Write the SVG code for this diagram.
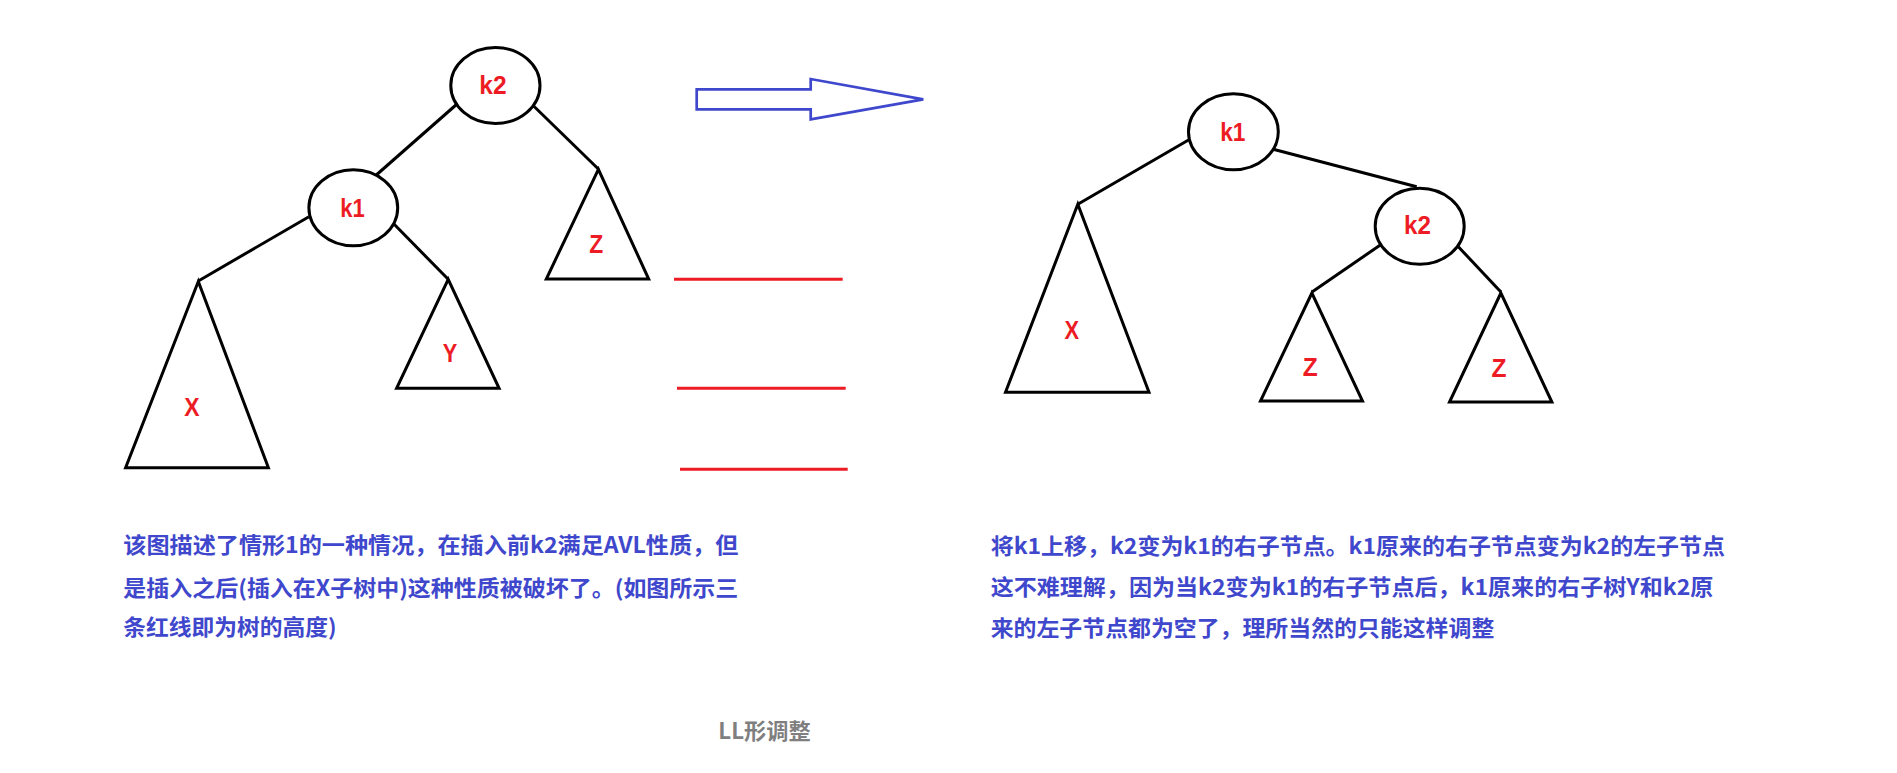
<svg xmlns="http://www.w3.org/2000/svg" width="1897" height="773" viewBox="0 0 1897 773">
<style>
.node{fill:#ffffff;stroke:#000000;stroke-width:3}
.tri{fill:none;stroke:#000000;stroke-width:3;stroke-linejoin:miter}
.edge{stroke:#000000;stroke-width:3;fill:none}
.lbl{font-family:"Liberation Sans","Noto Sans",sans-serif;font-weight:bold;font-size:25px;fill:#ed1c24;text-anchor:middle}
.red{stroke:#ed1c24;stroke-width:3}
.body{font-family:"Noto Sans CJK SC","Noto Sans",sans-serif;font-weight:bold;font-size:22px;fill:#3f48cc}
.cap{font-family:"Noto Sans CJK SC","Noto Sans",sans-serif;font-weight:bold;font-size:22px;fill:#7f7f7f;text-anchor:middle}
</style>
<rect width="1897" height="773" fill="#ffffff"/>
<g id="connectors">
<line class="edge" x1="455.9" y1="105" x2="376.3" y2="175"/>
<line class="edge" x1="533.6" y1="106" x2="598.6" y2="169.3"/>
<line class="edge" x1="308.9" y1="216.7" x2="198.3" y2="281"/>
<line class="edge" x1="393.9" y1="224" x2="448.2" y2="279.3"/>
<line class="edge" x1="1188.5" y1="140" x2="1077.8" y2="204.3"/>
<line class="edge" x1="1273.2" y1="149.3" x2="1416.7" y2="186.7"/>
<line class="edge" x1="1380.3" y1="245" x2="1312" y2="292"/>
<line class="edge" x1="1457.4" y1="245.7" x2="1500.9" y2="292"/>
</g>
<g id="left-k2"><ellipse class="node" cx="495.4" cy="85.5" rx="44.6" ry="38"/><text class="lbl" x="493" y="94" textLength="27.3" lengthAdjust="spacingAndGlyphs">k2</text></g>
<g id="left-k1"><ellipse class="node" cx="353.3" cy="207.7" rx="44.4" ry="38"/><text class="lbl" x="352.6" y="216.7" textLength="24.5" lengthAdjust="spacingAndGlyphs">k1</text></g>
<g id="left-Z"><polygon class="tri" points="598.4,169.3 546.3,279 648.7,279"/><text class="lbl" x="596.3" y="253.3" textLength="14" lengthAdjust="spacingAndGlyphs">Z</text></g>
<g id="left-X"><polygon class="tri" points="198.3,281.5 125.6,467.7 268.4,467.7"/><text class="lbl" x="191.8" y="415.7" textLength="15.3" lengthAdjust="spacingAndGlyphs">X</text></g>
<g id="left-Y"><polygon class="tri" points="448.2,279.3 396.6,388.3 499.1,388.3"/><text class="lbl" x="450.1" y="361.7" textLength="14.5" lengthAdjust="spacingAndGlyphs">Y</text></g>
<g id="arrow"><polygon points="696.7,89.3 810.7,89.3 810.7,79 923.3,99.3 810.7,119.3 810.7,109.3 696.7,109.3" fill="none" stroke="#3f48cc" stroke-width="2.7"/></g>
<g id="height-lines">
<line class="red" x1="674" y1="279.3" x2="842.7" y2="279.3"/>
<line class="red" x1="677" y1="388.3" x2="845.7" y2="388.3"/>
<line class="red" x1="680" y1="469.3" x2="847.7" y2="469.3"/>
</g>
<g id="right-k1"><ellipse class="node" cx="1233.4" cy="131.7" rx="44.9" ry="38"/><text class="lbl" x="1232.8" y="140.7" textLength="25.3" lengthAdjust="spacingAndGlyphs">k1</text></g>
<g id="right-k2"><ellipse class="node" cx="1419.7" cy="226.2" rx="44.5" ry="38"/><text class="lbl" x="1417.5" y="234" textLength="26.9" lengthAdjust="spacingAndGlyphs">k2</text></g>
<g id="right-X"><polygon class="tri" points="1077.8,204.3 1005.5,392.3 1149,392.3"/><text class="lbl" x="1071.9" y="339.3" textLength="14.6" lengthAdjust="spacingAndGlyphs">X</text></g>
<g id="right-Z1"><polygon class="tri" points="1311.9,293 1260.5,401 1362.5,401"/><text class="lbl" x="1310.3" y="375.7" textLength="15" lengthAdjust="spacingAndGlyphs">Z</text></g>
<g id="right-Z2"><polygon class="tri" points="1500.9,293 1449.5,402 1551.9,402"/><text class="lbl" x="1499" y="376.7" textLength="15" lengthAdjust="spacingAndGlyphs">Z</text></g>
<g id="left-text">
<text class="body" x="123.3" y="552.5" textLength="615" lengthAdjust="spacingAndGlyphs">该图描述了情形1的一种情况，在插入前k2满足AVL性质，但</text>
<text class="body" x="123.3" y="595.5" textLength="615" lengthAdjust="spacingAndGlyphs">是插入之后(插入在X子树中)这种性质被破坏了。(如图所示三</text>
<text class="body" x="123.3" y="635" textLength="213.4" lengthAdjust="spacingAndGlyphs">条红线即为树的高度)</text>
</g>
<g id="right-text">
<text class="body" x="990.7" y="553.5" textLength="734.3" lengthAdjust="spacingAndGlyphs">将k1上移，k2变为k1的右子节点。k1原来的右子节点变为k2的左子节点</text>
<text class="body" x="990.7" y="595" textLength="722.6" lengthAdjust="spacingAndGlyphs">这不难理解，因为当k2变为k1的右子节点后，k1原来的右子树Y和k2原</text>
<text class="body" x="990.7" y="635.5" textLength="503.6" lengthAdjust="spacingAndGlyphs">来的左子节点都为空了，理所当然的只能这样调整</text>
</g>
<g id="caption"><text class="cap" x="764.5" y="738.5" textLength="92.4" lengthAdjust="spacingAndGlyphs">LL形调整</text></g>
</svg>
